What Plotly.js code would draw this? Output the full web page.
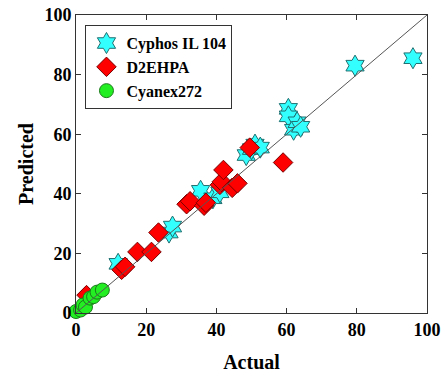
<!DOCTYPE html>
<html>
<head>
<meta charset="utf-8">
<script src="https://cdn.plot.ly/plotly-3.0.1.min.js"></script>
<style>html,body{margin:0;padding:0;background:#fff;}#chart{width:444px;height:374px;}</style>
</head>
<body>
<div id="chart"></div>
<script>
// Cyphos IL 104 (actual, predicted)
var cyphosActual    = [12, 26.5, 27.5, 35.5, 39, 41, 48.5, 50, 51, 52.5, 60.5, 60.5, 62, 63, 64, 79.5, 96];
var cyphosPredicted = [16.5, 27, 29, 41, 38.5, 40.5, 53, 55, 56.5, 55.5, 68.5, 66, 61.5, 64, 62.5, 83, 85.5];
// D2EHPA
var d2Actual    = [3, 13, 14, 17.5, 21.5, 23.5, 31.5, 32.5, 36.5, 37, 41, 41.5, 42, 44.5, 46, 49.5, 59];
var d2Predicted = [6, 14.5, 15.5, 20.5, 20.5, 27, 36.5, 37.5, 36, 37, 43, 44, 48, 42, 43.5, 55.5, 50.5];
// Cyanex272
var cyanexActual    = [0, 1.3, 2, 2.7, 4, 5, 6, 7.5];
var cyanexPredicted = [0.5, 1, 2.7, 2, 5, 5.5, 7, 7.7];
// reference line y = x
var lineX = [0, 100];
var lineY = [0, 100];
var tickVals = [0, 20, 40, 60, 80, 100];
var tickLabels = ['0', '20', '40', '60', '80', '100'];
var seriesNames = ['Cyphos IL 104', 'D2EHPA', 'Cyanex272'];

var serif = "Liberation Serif";
function b(s) { return '<b>' + s + '</b>'; }

var traces = [
  {x: cyphosActual, y: cyphosPredicted, name: b(seriesNames[0]), type: 'scatter', mode: 'markers', cliponaxis: false,
   marker: {symbol: 'hexagram', size: 16, color: '#33FFFF', line: {color: '#1f6f70', width: 1}}},
  {x: d2Actual, y: d2Predicted, name: b(seriesNames[1]), type: 'scatter', mode: 'markers', cliponaxis: false,
   marker: {symbol: 'diamond', size: 15, color: '#FF0000', line: {color: '#7a0000', width: 1}}},
  {x: cyanexActual, y: cyanexPredicted, name: b(seriesNames[2]), type: 'scatter', mode: 'markers', cliponaxis: false,
   marker: {symbol: 'circle', size: 14, color: '#22EE22', line: {color: '#1a7a1a', width: 1}}},
  {x: lineX, y: lineY, type: 'scatter', mode: 'lines', showlegend: false, hoverinfo: 'skip',
   line: {color: '#555555', width: 1}}
];

function axis(titleText, standoff) {
  return {
    range: [0, 100], tickvals: tickVals, ticktext: tickLabels.map(b), showgrid: false, zeroline: false,
    showline: true, linecolor: '#333', linewidth: 1, mirror: 'ticks',
    ticks: 'inside', ticklen: 5, tickcolor: '#333',
    tickfont: {family: serif, size: 18, color: '#000'},
    title: {text: b(titleText), font: {family: serif, size: 20, color: '#000'}, standoff: standoff}
  };
}

var layout = {
  width: 444, height: 374,
  font: {family: serif, size: 17, color: '#000'},
  margin: {l: 76, r: 17, t: 15, b: 61},
  paper_bgcolor: '#fff', plot_bgcolor: '#fff',
  xaxis: axis('Actual', 16),
  yaxis: axis('Predicted', 5),
  showlegend: true,
  legend: {x: 0.027, y: 0.966, xanchor: 'left', yanchor: 'top',
    bgcolor: '#fff', bordercolor: '#333', borderwidth: 1,
    font: {family: serif, size: 16, color: '#000'},
    tracegroupgap: 0}
};

Plotly.newPlot('chart', traces, layout, {displayModeBar: false, staticPlot: true});
</script>
</body>
</html>
